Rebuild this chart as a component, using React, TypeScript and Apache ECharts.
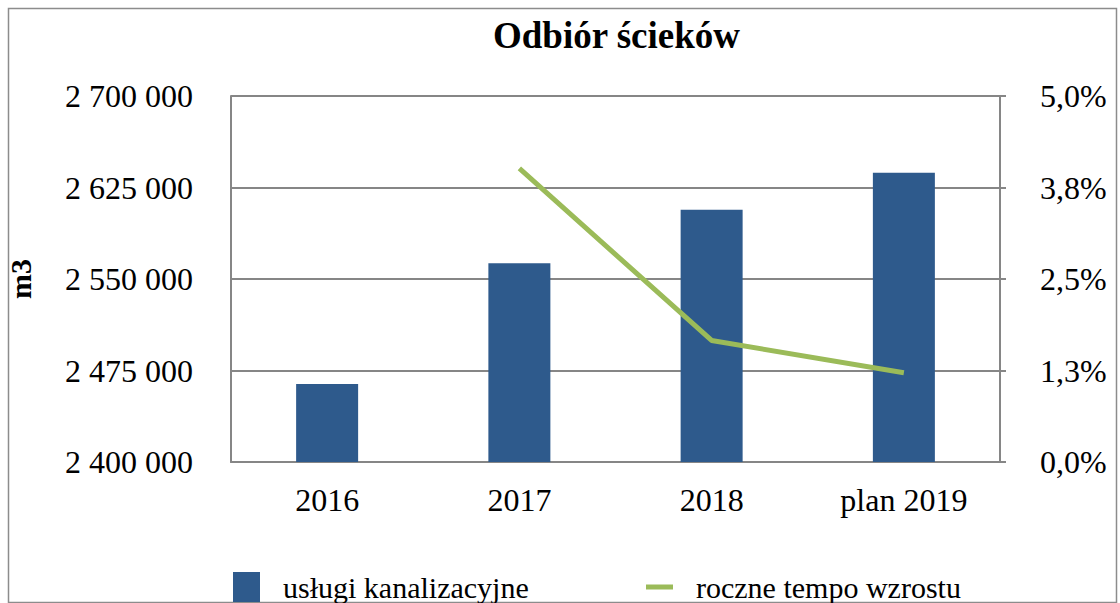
import React, { useEffect, useRef } from "react";
import * as echarts from "echarts";

const categories = ["2016", "2017", "2018", "plan 2019"];
const uslugi = [2464000, 2563000, 2606700, 2637000];
const tempo = [null, 4.01, 1.66, 1.22];
const seriesNames = ["usługi kanalizacyjne", "roczne tempo wzrostu"];

const FONT = "'Liberation Serif', 'DejaVu Serif', serif";

export default function App() {
  const ref = useRef<HTMLDivElement>(null);
  useEffect(() => {
    const chart = echarts.init(ref.current!, null, { renderer: "svg" });
    const legendText = { fontFamily: FONT, fontSize: 30, color: "#000", padding: [0, 0, 0, 18] };
    chart.setOption({
      animation: false,
      backgroundColor: "#ffffff",
      textStyle: { fontFamily: FONT, color: "#000" },
      title: {
        text: "Odbiór ścieków",
        left: 488,
        top: 12,
        textStyle: { fontFamily: FONT, fontWeight: "bold", fontSize: 37, color: "#000" },
      },
      graphic: [
        {
          type: "rect",
          shape: { x: 8.5, y: 8.5, width: 1108, height: 594 },
          style: { fill: "none", stroke: "#8c8c8c", lineWidth: 1.5 },
          silent: true,
        },
      ],
      legend: [
        {
          left: 228,
          top: 567,
          itemWidth: 27,
          itemHeight: 30,
          icon: "rect",
          textStyle: legendText,
          data: [seriesNames[0]],
        },
        {
          left: 641,
          top: 567,
          itemWidth: 27,
          itemHeight: 5,
          icon: "rect",
          textStyle: legendText,
          data: [seriesNames[1]],
        },
      ],
      grid: { left: 231, right: 120, top: 96, bottom: 141, outerBoundsMode: "none", containLabel: false },
      xAxis: {
        type: "category",
        data: categories,
        axisLine: { show: true, lineStyle: { color: "#868686", width: 2 } },
        axisTick: { show: false },
        axisLabel: { fontFamily: FONT, fontSize: 32, color: "#000", margin: 22 },
      },
      yAxis: [
        {
          type: "value",
          name: "m3",
          nameLocation: "middle",
          nameGap: 196,
          nameRotate: 90,
          nameTextStyle: { fontFamily: FONT, fontWeight: "bold", fontSize: 30, color: "#000" },
          min: 2400000,
          max: 2700000,
          interval: 75000,
          axisLine: { show: true, lineStyle: { color: "#868686", width: 2 } },
          axisTick: { show: false },
          splitLine: { show: true, lineStyle: { color: "#868686", width: 2 } },
          axisLabel: {
            fontFamily: FONT,
            fontSize: 32,
            color: "#000",
            margin: 38,
            formatter: (v: number) => String(Math.round(v)).replace(/\B(?=(\d{3})+(?!\d))/g, " "),
          },
        },
        {
          type: "value",
          min: 0,
          max: 5,
          interval: 1.25,
          position: "right",
          axisLine: { show: true, lineStyle: { color: "#868686", width: 2 } },
          axisTick: { show: true, inside: false, length: 6, lineStyle: { color: "#868686", width: 2 } },
          splitLine: { show: false },
          axisLabel: {
            fontFamily: FONT,
            fontSize: 32,
            color: "#000",
            margin: 40,
            formatter: (v: number) => v.toFixed(1).replace(".", ",") + "%",
          },
        },
      ],
      series: [
        {
          name: seriesNames[0],
          type: "bar",
          data: uslugi,
          barWidth: 62,
          itemStyle: { color: "#2E5A8C" },
        },
        {
          name: seriesNames[1],
          type: "line",
          yAxisIndex: 1,
          data: tempo,
          symbol: "none",
          lineStyle: { color: "#9BBB59", width: 5 },
          itemStyle: { color: "#9BBB59" },
        },
      ],
    });
    return () => chart.dispose();
  }, []);
  return (
    <div
      ref={ref}
      style={{ position: "fixed", left: 0, top: 0, width: 1120, height: 603 }}
    />
  );
}
